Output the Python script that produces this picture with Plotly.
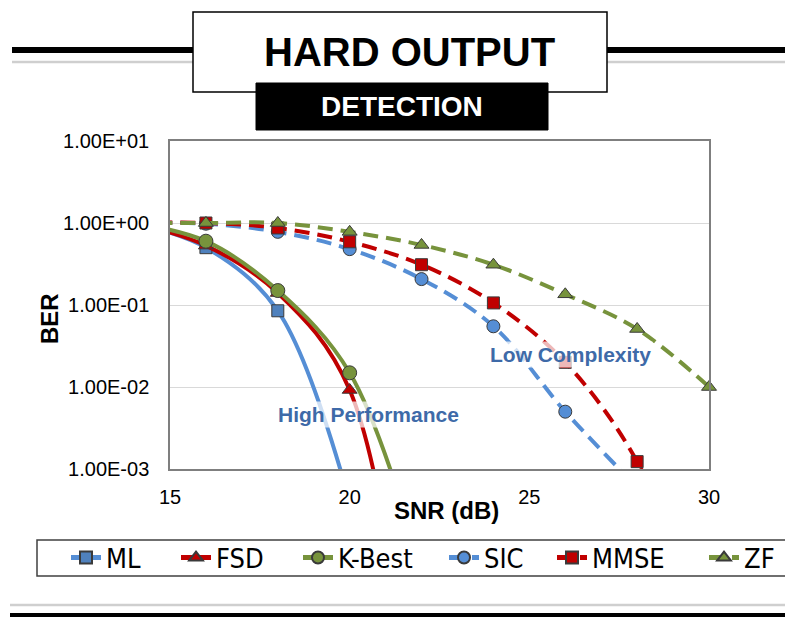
import plotly.graph_objects as go

# ---------------- data ----------------
snr_solid = [14, 16, 18, 20, 22]
ber_ml = [1.0, 0.5, 0.085, 0.0004, None]
ber_fsd = [1.0, 0.53, 0.14, 0.0092, 0.0000001]
ber_kbest = [1.0, 0.6, 0.15, 0.0149, 0.00006]

snr_dash = [14, 16, 18, 20, 22, 24, 26, 28, 30]
ber_sic = [1.0, 0.98, 0.78, 0.48, 0.207, 0.055, 0.005, 0.0006, None]
ber_mmse = [1.0, 1.0, 0.87, 0.59, 0.31, 0.106, 0.02, 0.00123, 0.00001]
ber_zf = [1.0, 1.0, 1.0, 0.78, 0.54, 0.31, 0.135, 0.051, 0.01]

series_names = ["ML", "FSD", "K-Best", "SIC", "MMSE", "ZF"]

y_tickvals = [1e-3, 1e-2, 1e-1, 1e0, 1e1]
y_ticktext = ["1.00E-03", "1.00E-02", "1.00E-01", "1.00E+00", "1.00E+01"]
x_tickvals = [15, 20, 25, 30]
X_RANGE = [15, 30]
Y_RANGE_LOG = [-3, 1]

# ---------------- layout geometry (page px; page body has an 8px margin) ----------------
OFF = 8
W, H = 793 - OFF, 617 - OFF
L, T = 170 - OFF, 141 - OFF
PW, PH = 539, 328
R, B = W - L - PW, H - T - PH


def px(x):
    return (x - 170) / PW


def py(y):
    return (469 - y) / PH


SANS = "Liberation Sans, Arial, sans-serif"
COND = "DejaVu Sans Condensed, Liberation Sans Narrow, sans-serif"

BLUE = "#4F81BD"
BLUE_L = "#558ED5"
RED = "#C00000"
GREEN = "#77933C"
EDGE = "#3a3a3a"
DASH = "15px,8px"
LW = 4
# legend symbol centres (page px) as in the reference
legend_marker_x = [87, 197, 319, 465, 573, 725]

fig = go.Figure()


def in_range(x, y):
    return (x is not None and y is not None and X_RANGE[0] <= x <= X_RANGE[1]
            and 10 ** Y_RANGE_LOG[0] * 0.999 <= y <= 10 ** Y_RANGE_LOG[1])


def legend_id(i):
    return "legend" if i == 0 else "legend%d" % (i + 1)


def add(i, x, y, color, mcolor, symbol, size, dash):
    sizes = [size if in_range(a, b) else 0 for a, b in zip(x, y)]
    fig.add_trace(go.Scatter(
        x=x, y=y, name=series_names[i], mode="lines+markers", legend=legend_id(i),
        line=dict(color=color, width=LW, shape="spline", smoothing=1.0, dash=dash),
        marker=dict(symbol=symbol, size=sizes, color=mcolor, opacity=1,
                    line=dict(color=EDGE, width=1)),
        cliponaxis=False,
    ))


add(0, snr_solid, ber_ml, BLUE_L, BLUE, "square", 12, "solid")
add(1, snr_solid, ber_fsd, RED, RED, "triangle-up", 13, "solid")
add(2, snr_solid, ber_kbest, GREEN, GREEN, "circle", 14, "solid")
add(3, snr_dash, ber_sic, BLUE_L, BLUE_L, "circle", 13, DASH)
add(4, snr_dash, ber_mmse, RED, RED, "square", 12, DASH)
add(5, snr_dash, ber_zf, GREEN, GREEN, "triangle-up", 13, DASH)

shapes = [
    # top rules
    dict(type="line", x0=px(12), x1=px(800), y0=py(62), y1=py(62), line=dict(color="#cfcfcf", width=2.5), layer="below"),
    dict(type="line", x0=px(12), x1=px(800), y0=py(50), y1=py(50), line=dict(color="black", width=6), layer="below"),
    # title box
    dict(type="rect", x0=px(193), x1=px(607), y0=py(12), y1=py(92), fillcolor="white",
         line=dict(color="black", width=1.5), layer="below"),
    dict(type="rect", x0=px(256), x1=px(548), y0=py(83), y1=py(130), fillcolor="black",
         line=dict(color="black", width=1), layer="below"),
    # legend frame
    dict(type="rect", x0=px(37), x1=px(805), y0=py(540), y1=py(576), fillcolor="white",
         line=dict(color="#404040", width=1.5), layer="below"),
    # bottom rules
    dict(type="line", x0=px(10), x1=px(800), y0=py(605), y1=py(605), line=dict(color="#cfcfcf", width=2.5), layer="below"),
    dict(type="line", x0=px(10), x1=px(800), y0=py(615), y1=py(615), line=dict(color="black", width=4), layer="below"),
]
for s in shapes:
    s.update(xref="paper", yref="paper")

annotations = [
    dict(text="<b>HARD OUTPUT</b>", x=px(409), y=py(52), font=dict(family=SANS, size=40, color="black")),
    dict(text="<b>DETECTION</b>", x=px(402), y=py(106), font=dict(family=SANS, size=28, color="white")),
    dict(text="<b>BER</b>", x=px(49), y=py(319), textangle=-90, font=dict(family=SANS, size=24, color="black")),
    dict(text="<b>SNR (dB)</b>", x=px(446), y=py(510), font=dict(family=SANS, size=24, color="black")),
    dict(text="<b>High Performance</b>", x=px(368), y=py(414), font=dict(family=SANS, size=21, color="#3E6AA8"),
         bgcolor="rgba(255,255,255,0.72)", borderpad=1),
    dict(text="<b>Low Complexity</b>", x=px(570), y=py(354), font=dict(family=SANS, size=21, color="#3E6AA8"),
         bgcolor="rgba(255,255,255,0.72)", borderpad=1),
]
for a in annotations:
    a.update(xref="paper", yref="paper", showarrow=False, xanchor="center", yanchor="middle")

legends = {}
for i, mx in enumerate(legend_marker_x):
    legends[legend_id(i)] = dict(
        orientation="h", x=px(mx - 21), y=py(558), xanchor="left", yanchor="middle",
        font=dict(family=COND, size=27, color="black"),
        bgcolor="rgba(0,0,0,0)", borderwidth=0,
        itemsizing="constant", itemwidth=30,
    )

fig.update_layout(
    width=W, height=H,
    margin=dict(l=L, r=R, t=T, b=B, pad=0),
    paper_bgcolor="white", plot_bgcolor="white",
    shapes=shapes, annotations=annotations,
    showlegend=True,
    xaxis=dict(
        range=X_RANGE, tickvals=x_tickvals, ticktext=[str(v) for v in x_tickvals],
        showgrid=False, zeroline=False,
        showline=True, linecolor="#7f7f7f", linewidth=1.5, mirror=True,
        ticks="", ticklabelstandoff=9,
        tickfont=dict(family=SANS, size=20, color="black"),
    ),
    yaxis=dict(
        type="log", range=Y_RANGE_LOG, tickvals=y_tickvals, ticktext=y_ticktext,
        showgrid=True, gridcolor="#d9d9d9", gridwidth=1, zeroline=False,
        showline=True, linecolor="#7f7f7f", linewidth=1.5, mirror=True,
        ticks="", ticklabelstandoff=15,
        tickfont=dict(family=SANS, size=20, color="black"),
    ),
    **legends,
)

fig.write_html("out.html")
